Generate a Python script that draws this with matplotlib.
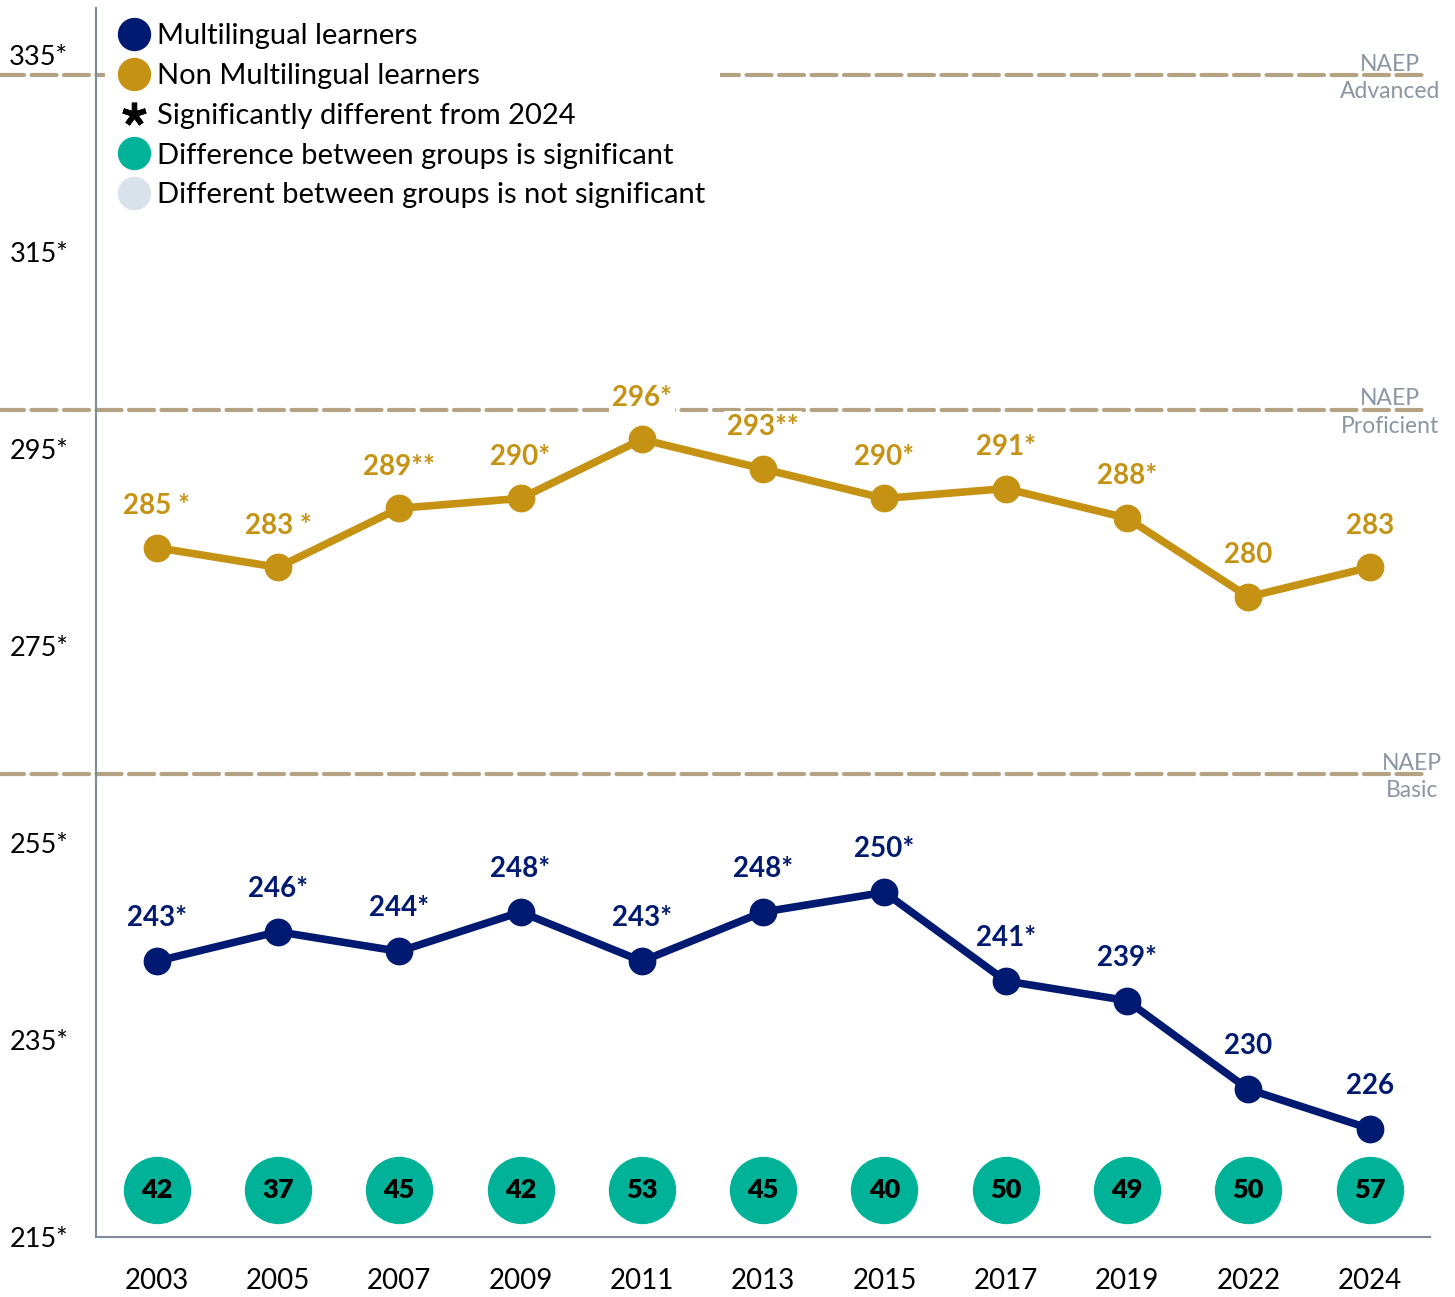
import matplotlib.pyplot as plt
from matplotlib.lines import Line2D

plt.rcParams['font.family'] = ['Lato', 'DejaVu Sans']

# ---------------------------
# data
# ---------------------------
years = ['2003', '2005', '2007', '2009', '2011', '2013', '2015', '2017', '2019', '2022', '2024']
non_ml = [285, 283, 289, 290, 296, 293, 290, 291, 288, 280, 283]
non_ml_labels = ['285 *', '283 *', '289**', '290*', '296*', '293**', '290*', '291*', '288*', '280', '283']
ml = [243, 246, 244, 248, 243, 248, 250, 241, 239, 230, 226]
ml_labels = ['243*', '246*', '244*', '248*', '243*', '248*', '250*', '241*', '239*', '230', '226']
gaps = [42, 37, 45, 42, 53, 45, 40, 50, 49, 50, 57]
gap_significant = [True] * 11

naep_levels = [262, 299, 333]
naep_names = ['Basic', 'Proficient', 'Advanced']
yticks = [215, 235, 255, 275, 295, 315, 335]

NAVY = '#001A72'
GOLD = '#C69214'
TEAL = '#00B398'
LIGHT = '#D9E1EA'
TAN = '#B3A383'
AXGRAY = '#7F8B96'
LBLGRAY = '#8A96A3'

fig = plt.figure(figsize=(14.55, 12.97), dpi=100)
ax = fig.add_axes([0.066, 0.0463, 0.917, 0.9475])
x = list(range(len(years)))

ax.set_xlim(-0.5, 10.5)
ax.set_ylim(215, 339.8)

# NAEP cut score lines
for lvl, name in zip(naep_levels, naep_names):
    ax.plot([-1.3, 10.46], [lvl, lvl], color=TAN, lw=3, ls=(0, (6, 1.8)),
            dash_capstyle='round', clip_on=False, zorder=1)
    xl = 10.35 if name == 'Basic' else 10.17
    ax.text(xl, lvl - 0.3, 'NAEP\n' + name, ha='center', va='center',
            fontsize=16.5, color=LBLGRAY, linespacing=1.4, clip_on=False, zorder=2)

# lines
ax.plot(x, non_ml, color=GOLD, lw=5.5, marker='o', ms=19, zorder=4)
ax.plot(x, ml, color=NAVY, lw=5.5, marker='o', ms=19, zorder=4)

for xi, v, lab in zip(x, non_ml, non_ml_labels):
    ax.annotate(lab, (xi, v), xytext=(0, 30), textcoords='offset points',
                ha='center', va='center', fontsize=20, fontweight='bold', color=GOLD,
                bbox=dict(boxstyle='square,pad=0.1', fc='white', ec='none'), zorder=3)
for xi, v, lab in zip(x, ml, ml_labels):
    ax.annotate(lab, (xi, v), xytext=(0, 31), textcoords='offset points',
                ha='center', va='center', fontsize=20, fontweight='bold', color=NAVY,
                bbox=dict(boxstyle='square,pad=0.1', fc='white', ec='none'), zorder=3)

# gap bubbles
for xi, g, sig in zip(x, gaps, gap_significant):
    ax.plot(xi, 219.8, marker='o', ms=47.5, color=TEAL if sig else LIGHT, zorder=4)
    ax.text(xi, 219.8, str(g), ha='center', va='center', fontsize=19.5,
            fontweight='heavy', color='black', zorder=5)

# axes styling
ax.set_xticks(x)
ax.set_xticklabels(years, fontsize=20)
ax.set_yticks(yticks)
ax.set_yticklabels([f'{t}*' for t in yticks], fontsize=19.5)
ax.tick_params(axis='both', length=0)
ax.tick_params(axis='x', pad=22)
ax.tick_params(axis='y', pad=20)
for s in ['top', 'right']:
    ax.spines[s].set_visible(False)
for s in ['left', 'bottom']:
    ax.spines[s].set_color(AXGRAY)
    ax.spines[s].set_linewidth(1.5)

# legend
handles = [
    Line2D([], [], ls='none', marker='o', ms=23, color=NAVY),
    Line2D([], [], ls='none', marker='o', ms=23, color=GOLD),
    Line2D([], [], ls='none', marker=(5, 2, 0), ms=17, mew=3.8, color='black'),
    Line2D([], [], ls='none', marker='o', ms=23, color=TEAL),
    Line2D([], [], ls='none', marker='o', ms=23, color=LIGHT),
]
labels = ['Multilingual learners', 'Non Multilingual learners', 'Significantly different from 2024',
          'Difference between groups is significant', 'Different between groups is not significant']
leg = ax.legend(handles, labels, loc='upper left', bbox_to_anchor=(0.0, 1.0065),
                fontsize=21, frameon=True, facecolor='white', edgecolor='none', framealpha=1,
                handlelength=1.0, handletextpad=0.3, labelspacing=0.47, borderpad=0.5,
                borderaxespad=0.3)
leg.set_zorder(6)

fig.savefig('out.png', dpi=100)
